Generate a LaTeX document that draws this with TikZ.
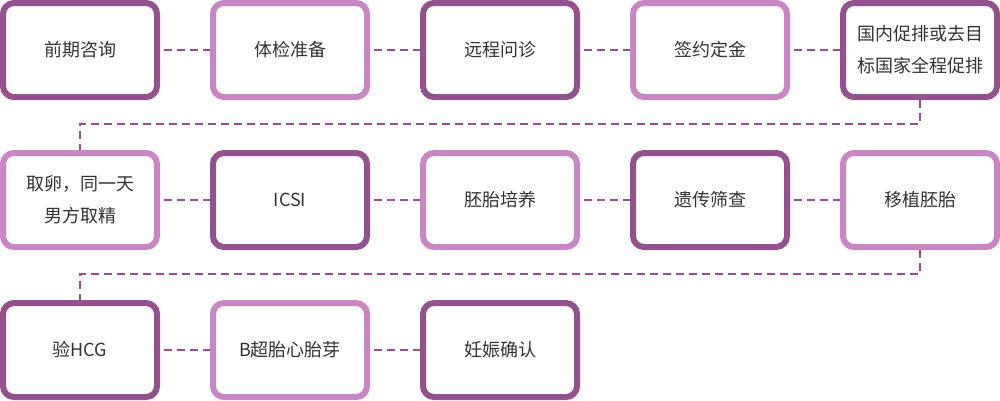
\documentclass[tikz,border=0pt]{standalone}
\usepackage{fontspec}
\setmainfont{Noto Sans CJK SC}
\definecolor{darkp}{HTML}{93528E}
\definecolor{lightp}{HTML}{C886C3}
\definecolor{txt}{HTML}{333333}
\begin{document}
\begin{tikzpicture}[x=1pt,y=-1pt,
  box/.style={draw, line width=6pt, rounded corners=11pt, minimum width=154pt, minimum height=94pt, inner sep=0pt, fill=white, text=txt, font=\fontsize{18pt}{32pt}\selectfont, align=center},
  dk/.style={box, draw=darkp},
  lt/.style={box, draw=lightp},
  conn/.style={draw=darkp, line width=2pt, dash pattern=on 8pt off 5pt}]
\useasboundingbox (0,0) rectangle (1000,400);
% row 1
\node[dk] (a1) at (80,50) {前期咨询};
\node[lt] (a2) at (290,50) {体检准备};
\node[dk] (a3) at (500,50) {远程问诊};
\node[lt] (a4) at (710,50) {签约定金};
\node[dk] (a5) at (920,50) {国内促排或去目\\标国家全程促排};
% row 2
\node[lt] (b1) at (80,200) {取卵，同一天\\男方取精};
\node[dk] (b2) at (290,200) {ICSI};
\node[lt] (b3) at (500,200) {胚胎培养};
\node[dk] (b4) at (710,200) {遗传筛查};
\node[lt] (b5) at (920,200) {移植胚胎};
% row 3
\node[dk] (c1) at (80,350) {验HCG};
\node[lt] (c2) at (290,350) {B超胎心胎芽};
\node[dk] (c3) at (500,350) {妊娠确认};
% connectors
\draw[conn] ([xshift=4pt]a1.east) -- (a2.west);
\draw[conn] ([xshift=4pt]a2.east) -- (a3.west);
\draw[conn] ([xshift=4pt]a3.east) -- (a4.west);
\draw[conn] ([xshift=4pt]a4.east) -- (a5.west);
\draw[conn] (a5.south) -- ++(0,24) -| (b1.north);
\draw[conn] ([xshift=4pt]b1.east) -- (b2.west);
\draw[conn] ([xshift=4pt]b2.east) -- (b3.west);
\draw[conn] ([xshift=4pt]b3.east) -- (b4.west);
\draw[conn] ([xshift=4pt]b4.east) -- (b5.west);
\draw[conn] (b5.south) -- ++(0,24) -| (c1.north);
\draw[conn] ([xshift=4pt]c1.east) -- (c2.west);
\draw[conn] ([xshift=4pt]c2.east) -- (c3.west);
\end{tikzpicture}
\end{document}
